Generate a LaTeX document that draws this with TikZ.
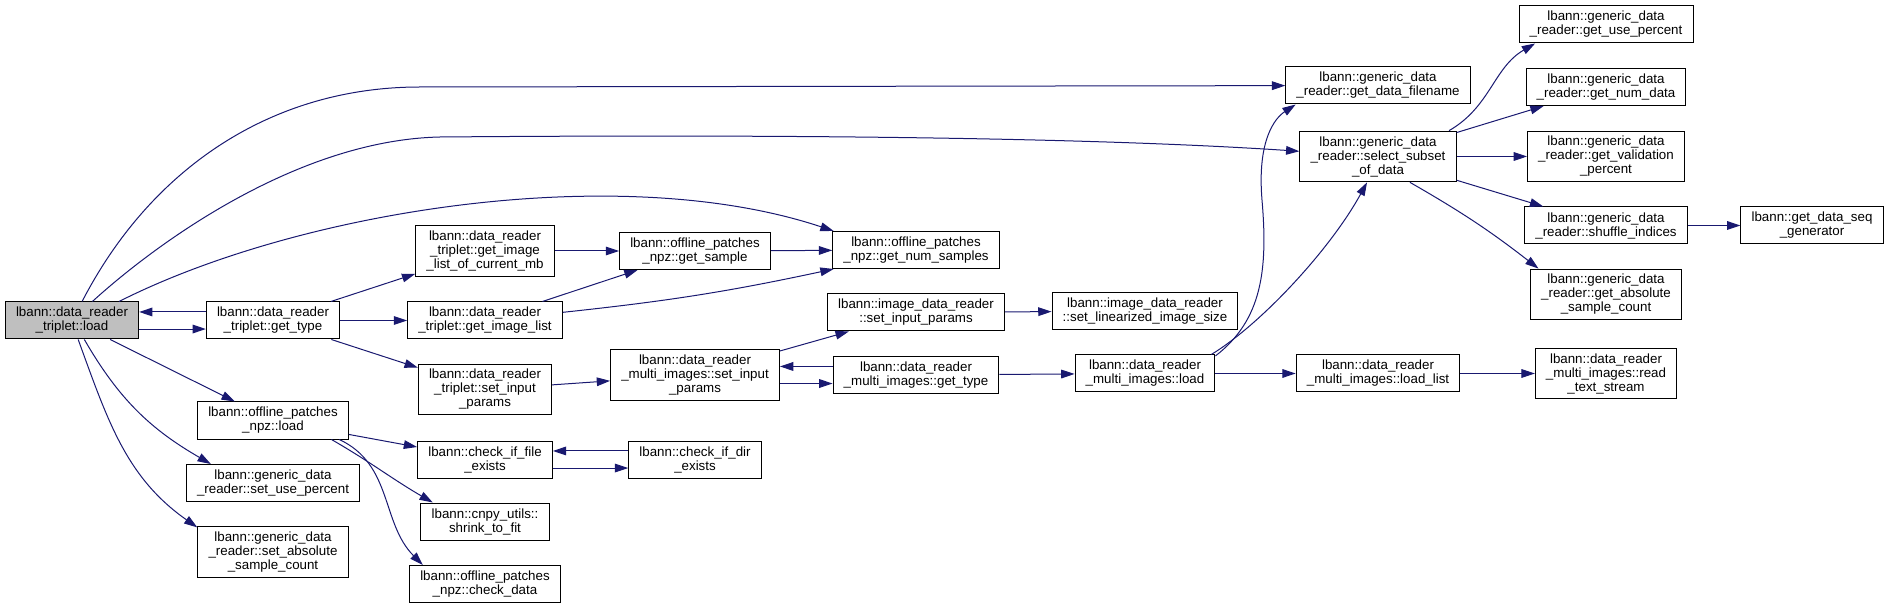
\documentclass[tikz,border=0pt]{standalone}
\usepackage{fontspec}
\setmainfont{Liberation Sans}
\usetikzlibrary{arrows.meta}
\definecolor{callBlue}{HTML}{191970}
\definecolor{rootGrey}{HTML}{BFBFBF}
\tikzstyle{fn}=[draw=black, fill=white, line width=0.75pt, align=center, inner xsep=8pt, inner ysep=3.9pt, minimum height=27.75pt, font=\fontsize{10}{10.5}\selectfont]
\tikzstyle{root}=[fn, fill=rootGrey]
\tikzstyle{call}=[draw=callBlue, line width=0.75pt, -{Triangle[length=10pt, width=6.5pt]}]

\begin{document}
\begin{tikzpicture}[x=0.75pt, y=-0.75pt]
	\useasboundingbox (0,0) rectangle (1888,609);

	% Callers on the left
	\node[root] (load) at (72,320.5) {lbann::data\_reader\\\_triplet::load};
	\node[fn] (gt) at (273,320.5) {lbann::data\_reader\\\_triplet::get\_type};
	\node[fn] (ol) at (273,420.5) {lbann::offline\_patches\\\_npz::load};
	\node[fn] (sup) at (273,483) {lbann::generic\_data\\\_reader::set\_use\_percent};
	\node[fn] (sasc) at (273,552) {lbann::generic\_data\\\_reader::set\_absolute\\\_sample\_count};

	\node[fn] (gilcm) at (485,251) {lbann::data\_reader\\\_triplet::get\_image\\\_list\_of\_current\_mb};
	\node[fn] (gil) at (485,320.5) {lbann::data\_reader\\\_triplet::get\_image\_list};
	\node[fn] (tsip) at (485,389.5) {lbann::data\_reader\\\_triplet::set\_input\\\_params};
	\node[fn] (cife) at (485,459.5) {lbann::check\_if\_file\\\_exists};
	\node[fn] (stf) at (485,521.5) {lbann::cnpy\_utils::\\shrink\_to\_fit};
	\node[fn] (cd) at (485,584) {lbann::offline\_patches\\\_npz::check\_data};

	\node[fn] (gs) at (695,251) {lbann::offline\_patches\\\_npz::get\_sample};
	\node[fn] (msip) at (695,375) {lbann::data\_reader\\\_multi\_images::set\_input\\\_params};
	\node[fn] (cide) at (695,459.5) {lbann::check\_if\_dir\\\_exists};

	\node[fn] (gns) at (916,250) {lbann::offline\_patches\\\_npz::get\_num\_samples};
	\node[fn] (idsip) at (916,312.5) {lbann::image\_data\_reader\\::set\_input\_params};
	\node[fn] (mgt) at (916,375) {lbann::data\_reader\\\_multi\_images::get\_type};

	\node[fn] (slis) at (1145,311) {lbann::image\_data\_reader\\::set\_linearized\_image\_size};
	\node[fn] (mload) at (1145,373.5) {lbann::data\_reader\\\_multi\_images::load};

	% generic data reader
	\node[fn] (gdf) at (1378,85.5) {lbann::generic\_data\\\_reader::get\_data\_filename};
	\node[fn] (sso) at (1378,156.5) {lbann::generic\_data\\\_reader::select\_subset\\\_of\_data};
	\node[fn] (lload) at (1378,373.5) {lbann::data\_reader\\\_multi\_images::load\_list};

	\node[fn] (gup) at (1606,24.5) {lbann::generic\_data\\\_reader::get\_use\_percent};
	\node[fn] (gnd) at (1606,87) {lbann::generic\_data\\\_reader::get\_num\_data};
	\node[fn] (gvp) at (1606,156.5) {lbann::generic\_data\\\_reader::get\_validation\\\_percent};
	\node[fn] (shuf) at (1606,225.5) {lbann::generic\_data\\\_reader::shuffle\_indices};
	\node[fn] (gasc) at (1606,294.5) {lbann::generic\_data\\\_reader::get\_absolute\\\_sample\_count};
	\node[fn] (rts) at (1606,373.5) {lbann::data\_reader\\\_multi\_images::read\\\_text\_stream};
	\node[fn] (gdsg) at (1812,225.5) {lbann::get\_data\_seq\\\_generator};

	% calls out of the root
	\draw[call] (load.62) .. controls (150,170) and (270,87) .. (420,87) -- (gdf);
	\draw[call] (load.43) .. controls (160,240) and (300,140) .. (440,137) .. controls (800,134) and (1100,138) .. (sso);
	\draw[call] (load.22) .. controls (300,210) and (620,160) .. (gns.167);
	\draw[call] ([yshift=-6.4pt]load.east) -- ([yshift=-6.4pt]gt.west);
	\draw[call] ([yshift=6.4pt]gt.west) -- ([yshift=6.4pt]load.east);
	\draw[call] (load) -- (ol);
	\draw[call] (load.-57) to[out=-60, in=150] (sup.163);
	\draw[call] (load.-72) to[out=-70, in=145] (sasc.162);

	\draw[call] (gt) -- (gilcm);
	\draw[call] (gt) -- (gil);
	\draw[call] (gt) -- (tsip);
	\draw[call] (gilcm) -- (gs);
	\draw[call] (gil) -- (gs);
	\draw[call] (gil.6) to[bend right=3] (gns.193);
	\draw[call] (gs) -- (gns);

	\draw[call] (tsip) -- (msip);
	\draw[call] (msip) -- (idsip);
	\draw[call] ([yshift=-6.4pt]msip.east) -- ([yshift=-6.4pt]mgt.west);
	\draw[call] ([yshift=6.4pt]mgt.west) -- ([yshift=6.4pt]msip.east);
	\draw[call] (idsip) -- (slis);
	\draw[call] (mgt) -- (mload);

	\draw[call] (mload.14) .. controls (1262,320) and (1268,270) .. (1262,200) .. controls (1257,140) and (1275,118) .. (gdf.193);
	\draw[call] (mload.16) .. controls (1260,325) and (1330,250) .. (sso.247);
	\draw[call] (mload) -- (lload);
	\draw[call] (lload) -- (rts);

	\draw[call] (sso.20) to[out=30, in=210] (gup.195);
	\draw[call] (sso) -- (gnd);
	\draw[call] (sso) -- (gvp);
	\draw[call] (sso) -- (shuf);
	\draw[call] (sso.-39) to[bend left=4] (gasc.159);
	\draw[call] (shuf) -- (gdsg);

	\draw[call] (ol) -- (cife);
	\draw[call] (ol.-18) to[out=-30, in=150] (stf.160);
	\draw[call] (ol.-16) to[out=-25, in=135] (cd.163);
	\draw[call] ([yshift=-6.4pt]cife.east) -- ([yshift=-6.4pt]cide.west);
	\draw[call] ([yshift=6.4pt]cide.west) -- ([yshift=6.4pt]cife.east);
\end{tikzpicture}
\end{document}
